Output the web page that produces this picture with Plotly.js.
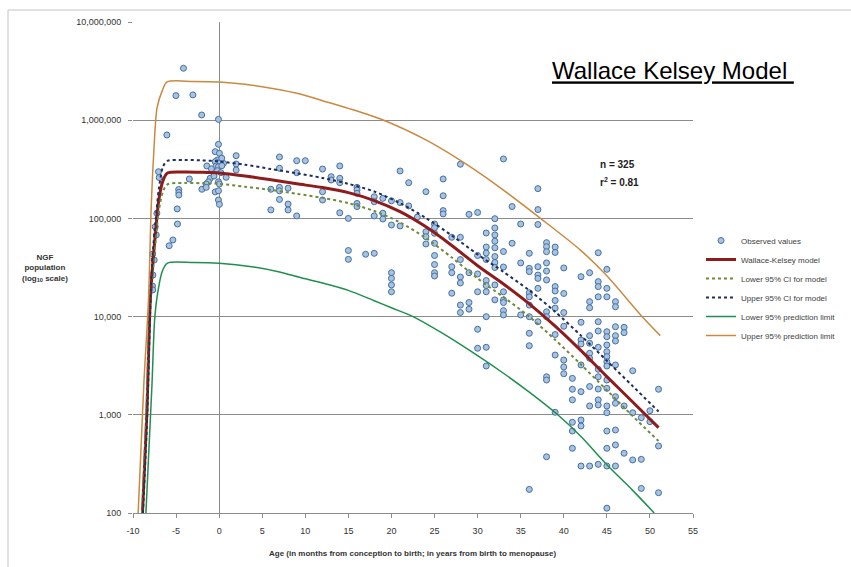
<!DOCTYPE html>
<html>
<head>
<meta charset="utf-8">
<script src="https://cdn.plot.ly/plotly-3.0.1.min.js"></script>
<style>html,body{margin:0;padding:0;background:#fff;}#chart{width:851px;height:567px;}</style>
</head>
<body>
<div id="chart"></div>
<script>
// Observed values (age, NGF population)
const obsAge = [
 -7.04,-6.96,-7.23,-7.42,-7.3,-7.71,-7.54,-7.69,-7.74,-7.71,
 -6.07,-5.02,-4.14,-3.05,-2.03,-4.7,-4.68,-4.68,-4.87,-4.84,-5.37,-5.8,-3.46,
 -0.08,-0.08,-0.46,0.03,1.97,-0.2,-0.46,0.12,0.5,1.97,-1.43,-0.35,-0.08,0.31,1.97,-0.2,0.2,0.81,-1.04,-1.24,-1.5,-0.08,0.03,-2.0,-1.5,-0.46,-0.08,-0.08,0.03,-0.6,0.3,-0.9,
 7,9,7,9,6,7,7,7,6,8,8,9,10,8,
 12,12,12,13,13,14,14,14,14,15,15,15,16,16,16,16,16,17,18,18,18,18,19,19,19,20,20,20,20,20,20,21,21,21,22,22,23,
 24,24,24,24,25,25,25,25,25,25,25,25,26,26,26,26,27,27,27,27,28,28,28,28,28,28,28,29,29,29,29,
 30,30,30,30,30,30,31,31,31,31,31,31,31,31,31,31,32,32,32,32,32,32,32,32,32,32,
 33,33,33,33,33,33,33,33,34,34,35,35,35,36,36,36,36,36,36,36,36,36,36,
 37,37,37,37,37,37,37,37,38,38,38,38,38,38,38,38,38,38,38,39,39,39,39,39,39,39,39,39,
 40,40,40,40,40,40,40,41,41,41,41,41,41,42,42,42,42,42,42,42,42,42,43,43,43,43,43,43,43,43,43,43,
 44,44,44,44,44,44,44,44,44,44,44,44,44,45,45,45,45,45,45,45,45,45,45,45,45,45,45,45,45,45,45,
 46,46,46,46,46,46,46,46,46,46,46,47,47,47,47,48,48,48,49,49,49,50,50,51,51,51
];
const obsNGF = [
 299000,261000,113000,82300,67800,43400,37700,26500,20500,18700,
 707000,1780000,3380000,1810000,1130000,197000,184000,173000,125000,87700,60300,52700,252000,
 1020000,568000,478000,460000,435000,393000,378000,369000,364000,358000,342000,342000,336000,344000,311000,306000,292000,262000,256000,236000,224000,236000,224000,198000,207000,186000,191000,154000,139000,270000,410000,320000,
 422000,387000,324000,292000,198000,207000,191000,156000,122000,140000,122000,106000,387000,203000,
 318000,187000,154000,266000,246000,342000,256000,231000,114000,100000,47100,38300,207000,195000,180000,142000,132000,43100,166000,148000,106000,44100,160000,113000,98600,151000,85700,28000,24500,21000,17900,145000,83700,304000,134000,231000,103000,
 187000,73200,65100,54900,87700,80400,70500,55800,41900,33900,28000,25900,252000,170000,120000,111000,64200,32200,28000,17300,356000,64200,38100,25300,22000,13100,11000,110000,28000,13900,11900,
 115000,41900,27200,17900,7430,4760,71000,51100,44400,38100,23300,20700,17900,9980,4870,3140,99300,79900,67800,58600,50200,40900,35600,31600,21000,14800,
 403000,46000,32000,17900,14800,13900,11500,10400,132000,55800,87700,35200,10400,44100,31000,28700,17500,15900,13100,9980,6760,5050,174,
 201000,123000,86700,32200,26500,24500,19400,8870,56600,51500,45800,35200,29100,23600,11200,9980,2440,2260,374,51100,45000,20200,18200,14600,12200,6570,4060,1060,
 31300,17200,11000,7970,3610,3070,2620,2350,1820,1420,839,684,456,25500,8750,5780,5260,3220,1720,885,769,301,28000,14200,12300,6390,5350,4230,3760,1940,1230,301,
 44700,22700,20200,15900,8870,7130,4870,2910,2440,1830,1420,1260,313,30300,19400,15900,7020,6240,5140,4390,3910,3470,3140,2260,1860,1230,1050,684,456,301,112,
 14200,12600,7890,6390,5640,3220,1530,1310,700,493,301,7780,6860,1230,406,2810,1050,347,934,352,178,1100,851,1820,481,161
];

// Wallace-Kelsey model and 95% CI
const modelAge = [-8.9,-8.4,-8.0,-7.7,-7.4,-7.0,-6.5,-6.0,-4,-2,0,3,6,9,12,15,18,21,24,27,30,33,36,39,42,45,48,51];
const modelNGF = [100,1000,14000,35000,70000,155000,245000,290000,297000,295000,290000,270000,247000,225000,206000,183000,152000,117000,82000,53000,33000,21500,13500,8000,4500,2450,1350,740];
const upperCIAge = [-8.85,-8.35,-7.95,-7.7,-7.4,-7.0,-6.5,-6.0,-4,-2,0,3,6,9,12,15,18,21,24,27,30,33,36,39,42,45,48,51];
const upperCI = [100,1000,16000,45000,90000,200000,340000,385000,393000,390000,380000,352000,318000,288000,258000,225000,188000,143000,101000,67000,43000,28500,18500,11200,6400,3550,1960,1080];
const lowerCIAge = [-8.95,-8.45,-8.05,-7.7,-7.4,-7.0,-6.5,-6.0,-4,-2,0,3,6,9,12,15,18,21,24,27,30,33,36,39,42,45,48,51];
const lowerCI = [100,1000,12000,28000,55000,120000,190000,222000,230000,228000,225000,210000,195000,178000,162000,143000,119000,91000,63000,40000,24500,15800,10000,5800,3250,1780,970,540];

// 95% prediction limits
const lowerPLAge = [-8.5,-7.8,-7.5,-7.2,-6.6,-6.0,-3,0,4,7,9.4,12,15,18,20,22.5,26,30,33,36,39.3,42,45,48,50.5];
const lowerPL = [100,2000,9000,16000,29000,35000,35500,35000,32000,28500,25000,22000,18500,14500,12300,10000,6700,4000,2650,1700,1000,600,310,170,100];
const upperPLAge = [-9.4,-8.75,-8.2,-7.9,-7.6,-7.2,-6.6,-6.05,-3,0,3,6,9.4,12,15,19.1,24,28,32,37.3,42,45,49,51.2];
const upperPL = [100,2000,15000,120000,450000,1350000,2000000,2450000,2480000,2450000,2320000,2120000,1850000,1580000,1320000,1000000,630000,390000,225000,100000,47000,26000,10200,6400];

const xTickVals = [-10,-5,0,5,10,15,20,25,30,35,40,45,50,55];
const xTickText = ['-10','-5','0','5','10','15','20','25','30','35','40','45','50','55'];
const yTickVals = [100,1000,10000,100000,1000000,10000000];
const yTickText = ['100','1,000','10,000','100,000','1,000,000','10,000,000'];

const traces = [
 {type:'scatter', mode:'markers', name:'Observed values', x:obsAge, y:obsNGF,
  marker:{symbol:'circle', size:6, color:'#a7c3e3', line:{color:'#466f9e', width:1}}},
 {type:'scatter', mode:'lines', name:'Wallace-Kelsey model', x:modelAge, y:modelNGF,
  line:{color:'#8e1c1c', width:3, shape:'spline', smoothing:0.8}},
 {type:'scatter', mode:'lines', name:'Lower 95% CI for model', x:lowerCIAge, y:lowerCI,
  line:{color:'#6f8a3a', width:2, dash:'dot', shape:'spline', smoothing:0.8}},
 {type:'scatter', mode:'lines', name:'Upper 95% CI for model', x:upperCIAge, y:upperCI,
  line:{color:'#1f2d5a', width:2, dash:'dot', shape:'spline', smoothing:0.8}},
 {type:'scatter', mode:'lines', name:'Lower 95% prediction limit', x:lowerPLAge, y:lowerPL,
  line:{color:'#1e8f4e', width:1.5, shape:'spline', smoothing:0.8}},
 {type:'scatter', mode:'lines', name:'Upper 95% prediction limit', x:upperPLAge, y:upperPL,
  line:{color:'#c98a40', width:1.5, shape:'spline', smoothing:0.8}}
];

const W = 560, H = 491, L0 = 133, T0 = 22;
const px = v => (v - L0) / W;
const py = v => (T0 + H - v) / H;

const layout = {
 width:851, height:567,
 margin:{l:133, r:158, t:22, b:54, autoexpand:false},
 paper_bgcolor:'#ffffff', plot_bgcolor:'#ffffff',
 font:{family:'Arial, Liberation Sans, sans-serif', color:'#333333'},
 title:{text:'<u>Wallace Kelsey Model&nbsp;</u>', xref:'container', yref:'container',
  x:552/851, xanchor:'left', y:1-71/567, yanchor:'middle',
  font:{family:'Arial, Liberation Sans, sans-serif', size:24, color:'#000000'}},
 showlegend:true,
 legend:{x:px(701), xanchor:'left', y:py(226), yanchor:'top', bgcolor:'rgba(0,0,0,0)',
  font:{family:'Arial, Liberation Sans, sans-serif', size:8, color:'#404040'}, itemwidth:30, tracegroupgap:0},
 xaxis:{range:[-10,55], tickvals:xTickVals, ticktext:xTickText, showgrid:false, zeroline:true, zerolinecolor:'#8c8c8c', zerolinewidth:1,
  showline:true, linecolor:'#8c8c8c', linewidth:1, ticks:'outside', ticklen:4, tickcolor:'#8c8c8c', ticklabelstandoff:5,
  tickfont:{family:'Arial, Liberation Sans, sans-serif', size:9, color:'#333333'}, fixedrange:true, automargin:false},
 yaxis:{type:'log', range:[2,7], tickvals:yTickVals, ticktext:yTickText, showgrid:true, gridcolor:'#8c8c8c', gridwidth:1,
  zeroline:false, showline:false, ticks:'outside', ticklen:4, tickcolor:'#8c8c8c', ticklabelstandoff:5,
  tickfont:{family:'Arial, Liberation Sans, sans-serif', size:9, color:'#333333'}, fixedrange:true, automargin:false},
 annotations:[
  {xref:'paper', yref:'paper', x:px(45), y:py(268), xanchor:'center', yanchor:'middle', showarrow:false,
   text:'<b>NGF<br>population<br>(log<sub>10</sub> scale)</b>', font:{size:8, color:'#333333'}},
  {xref:'paper', yref:'paper', x:px(412.5), y:py(553), xanchor:'center', yanchor:'middle', showarrow:false,
   text:'<b>Age (in months from conception to birth; in years from birth to menopause)</b>', font:{size:8, color:'#333333'}},
  {xref:'paper', yref:'paper', x:px(598), y:py(165), xanchor:'left', yanchor:'middle', showarrow:false,
   text:'<b>n = 325</b>', font:{size:10, color:'#222222'}},
  {xref:'paper', yref:'paper', x:px(598), y:py(182), xanchor:'left', yanchor:'middle', showarrow:false,
   text:'<b>r<sup>2</sup> = 0.81</b>', font:{size:10, color:'#222222'}}
 ],
 shapes:[
  {type:'rect', xref:'paper', yref:'paper', x0:px(8), x1:px(870), y0:py(580), y1:py(10),
   line:{color:'#c4c4c4', width:1}, fillcolor:'rgba(0,0,0,0)', layer:'below'}
 ]
};

Plotly.newPlot('chart', traces, layout, {displayModeBar:false, staticPlot:true});
</script>
</body>
</html>
